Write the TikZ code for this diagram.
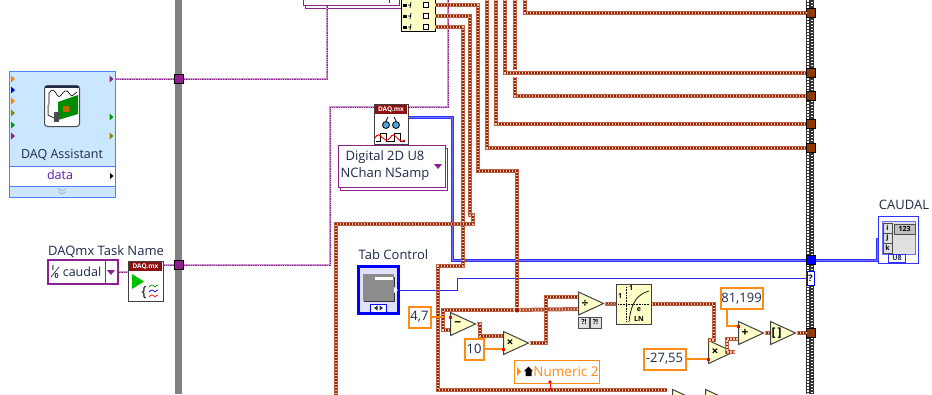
\documentclass[tikz,border=0pt]{standalone}
\usepackage{fontspec}
\setmainfont{Open Sans}
\usetikzlibrary{arrows.meta,shapes.geometric,shadows}
\definecolor{inkblue}{HTML}{1E2A48}
\definecolor{wirerim}{HTML}{BA6444}
\definecolor{wirecore}{HTML}{9C2100}
\definecolor{wirelight}{HTML}{EFCFC0}
\definecolor{numorange}{HTML}{FF8A14}
\definecolor{palecream}{HTML}{FFFFC8}
\definecolor{taskpurple}{HTML}{8E1F8E}
\definecolor{lvblue}{HTML}{3030FF}
\definecolor{tunbrown}{HTML}{8F3A00}
\definecolor{asstblue}{HTML}{CBE6FF}
\definecolor{asstedge}{HTML}{4D80FF}
\definecolor{hdrred}{HTML}{8E1010}

\tikzset{
every node/.style={font=\fontsize{13}{15}\selectfont,text=inkblue,inner sep=0pt},
numwire/.style={draw=wirecore,line width=1.7pt,miter limit=10,
  preaction={draw=wirerim,line width=4pt},
  postaction={draw=wirelight,line width=1.7pt,dash pattern=on 1.4pt off 1.6pt}},
taskwire/.style={draw=taskpurple!45,line width=1.9pt,
  postaction={draw=taskpurple,line width=1pt,dash pattern=on 1.3pt off 1pt}},
arrwire/.style={draw=blue!55,line width=1pt,preaction={draw=lvblue,line width=3pt}},
thinwire/.style={draw=lvblue!90!black,line width=.8pt},
constwire/.style={draw=numorange,line width=1.1pt},
tunnel/.style={draw=black,line width=.8pt,minimum size=9pt},
constbox/.style={draw=numorange,line width=2pt,fill=white,minimum height=21pt},
tri/.style={isosceles triangle,isosceles triangle stretches,shape border rotate=0,
  draw=black!75,line width=1pt,fill=palecream,minimum height=25pt,minimum width=23pt,
  anchor=lower side,font=\bfseries\fontsize{12}{12}\selectfont,text=black},
ringbox/.style={draw=taskpurple,line width=1pt,fill=white,
  copy shadow={shadow xshift=2pt,shadow yshift=-3pt,draw=taskpurple,fill=white}},
iconbox/.style={draw=black!75,line width=1pt,fill=white,minimum width=34pt,minimum height=40pt},
tiny/.style={font=\bfseries\fontsize{7}{7}\selectfont,text=black}
}

\begin{document}
\begin{tikzpicture}[x=1pt,y=-1pt]
\useasboundingbox (0,0) rectangle (932,394);
\clip (0,0) rectangle (932,394);
\fill[white] (0,0) rectangle (932,394);

% Frame bars
\fill[black!50] (175,0) rectangle (182,394);
\fill[black!80] (806,0) rectangle (814,394);
\draw[white,line width=2.6pt,dash pattern=on 1.5pt off 1.5pt] (808,0) -- (808,394);
\draw[white,line width=2.6pt,dash pattern=on 1.5pt off 1.5pt,dash phase=1.5pt] (812,0) -- (812,394);

% DAQ Assistant
\node[draw=asstedge,line width=1pt,fill=asstblue,minimum width=106pt,minimum height=126pt] (assist) at (62,134) {};
\node[draw=asstedge,line width=1pt,fill=white,minimum width=106pt,minimum height=20pt] (assistrow) at (62,176) {};
\node[font=\fontsize{12.5}{14}\selectfont] (assistname) at (62,155) {DAQ Assistant};
\node[text=taskpurple!70!blue,font=\fontsize{12.5}{14}\selectfont] (assistdata) at (60,175) {data};
\fill[black] (110,173) -- (113.5,176) -- (110,179) -- cycle;
\draw[black!35,line width=.6pt] (58,188.5) -- (62,191) -- (66,188.5) (58,191.5) -- (62,194) -- (66,191.5);
\foreach \y/\c in {79/orange,90/blue,101/orange,113/olive,125/green!60!black,136/taskpurple}
  \fill[\c] (11,\y-3.5) -- (15,\y) -- (11,\y+3.5) -- cycle;
\foreach \y/\c in {79/taskpurple,117/green!60!black,136/olive}
  \fill[\c] (109.5,\y-3.5) -- (113.5,\y) -- (109.5,\y+3.5) -- cycle;
\node[draw=black!70,line width=1pt,fill=white,rounded corners=3pt,minimum width=35pt,minimum height=41pt] (assisticon) at (62,106) {};
\fill[inkblue] (45,86) rectangle (79,88);
\draw[black,line width=.6pt] (49,105) -- (49,93) .. controls (52,89) and (54,89) .. (57,95) .. controls (60,100) and (62,92) .. (65,91) .. controls (68,89) and (70,96) .. (72,96) -- (77,92);
\fill[green!55!black] (58,102) -- (78,95) -- (78,114) -- (58,120) -- cycle;
\fill[orange!80!black] (63,106) rectangle (69,112);
\fill[black!70] (54,112) rectangle (59,122);
\draw[black!70,line width=1pt] (48,105) -- (48,115) -- (54,118);

% Task name and start
\node (tasklabel) at (106,252) {DAQmx Task Name};
\node[draw=taskpurple,line width=2pt,fill=white,minimum width=70pt,minimum height=24pt] (taskname) at (83,272) {};
\node[font=\fontsize{12.5}{15}\selectfont] (taskvalue) at (82,271.5) {caudal};
\node[font=\bfseries\fontsize{7}{7}\selectfont] (taskioi) at (53,268) {I};
\node[font=\bfseries\fontsize{7}{7}\selectfont] (taskioo) at (56.5,276) {0};
\draw[inkblue,line width=.7pt] (51,277) -- (59,267);
\draw[taskpurple,line width=1pt] (105,260) -- (105,284);
\fill[taskpurple] (107,270) -- (115,270) -- (111,275) -- cycle;
\node[iconbox,minimum width=35pt] (starticon) at (145.5,281) {};
\node[fill=hdrred,text=white,minimum width=33pt,minimum height=8.5pt,font=\bfseries\fontsize{6.5}{7}\selectfont] (starthdr) at (145.5,266.5) {DAQ.mx};
\fill[green!75!black] (132,274) -- (144,281.5) -- (132,289) -- cycle;
\node[font=\fontsize{14}{14}\selectfont,text=black] (startbrace) at (144,293) {\{};
\draw[green!60!black,line width=.7pt] (149,287) sin (152,285) cos (155,287) sin (158,285);
\draw[blue,line width=.7pt] (149,292) sin (152,290) cos (155,292) sin (158,290);
\draw[red,line width=.7pt] (149,297) sin (152,295) cos (155,297) sin (158,295);

% Top control and indexer
\node[ringbox,minimum width=96pt,minimum height=16pt] (topbox) at (351,-3) {};
\draw[thinwire] (389,0) -- (389,3);
\node[draw=black,line width=1pt,fill=palecream,minimum width=34pt,minimum height=42pt] (indexer) at (418,10) {};
\foreach \y in {5,16,27} {
  \fill[black] (403,\y-1.5) rectangle (407,\y+1.5);
  \draw[black,line width=.8pt] (408,\y) -- (411,\y) (411,\y-3) -- (410,\y+3);
  \draw[black,line width=1pt,fill=white] (423,\y-2.5) rectangle (428,\y+2.5);
}

% Read vi
\node[iconbox] (readicon) at (391,124) {};
\node[fill=hdrred,text=white,minimum width=32pt,minimum height=8.5pt,font=\bfseries\fontsize{6.5}{7}\selectfont] (readhdr) at (391,109.5) {DAQ.mx};
\draw[black,line width=.8pt,fill=cyan!70!blue!70] (386,125) circle (3.5pt) (396,125) circle (3.5pt);
\draw[black,line width=.8pt] (386,121) -- (388,117) (396,121) -- (394,117);
\draw[black,line width=.7pt] (376,141) -- (380,141) -- (380,133) -- (386,133) -- (386,141) -- (394,141) -- (394,133) -- (400,133) -- (400,141) -- (405,141);
\draw[red,line width=1pt] (375,138) .. controls (380,128) and (384,146) .. (390,138) .. controls (395,128) and (398,146) .. (405,140);
\node[ringbox,minimum width=107pt,minimum height=42pt] (readmode) at (391.5,166) {};
\node[align=center,font=\fontsize{13}{17}\selectfont] (readmodetext) at (385,166) {Digital 2D U8\\NChan NSamp};
\fill[taskpurple] (434,164) -- (442,164) -- (438,169) -- cycle;

% Tab control
\node (tablabel) at (393.5,255) {Tab Control};
\node[draw=blue,line width=2.5pt,fill=blue!12,minimum width=40pt,minimum height=47pt] (tabctl) at (378.5,290) {};
\fill[black!45] (363,274) rectangle (394,301);
\draw[black!80,line width=1pt] (364,301) -- (394,301) -- (394,277);
\fill[white] (375,277) rectangle (393,280);
\fill[white] (394,287) -- (398,290) -- (394,293) -- cycle;
\node[draw=blue,line width=.8pt,fill=white,minimum width=16pt,minimum height=8pt] (tabchip) at (378.5,308) {};
\fill[inkblue] (377.5,305.5) -- (377.5,310.5) -- (374,308) -- cycle (379.5,305.5) -- (379.5,310.5) -- (383,308) -- cycle;

% Constants
\node[constbox,minimum width=22pt] (cfour) at (419.5,317) {4,7};
\node[constbox,minimum width=19pt] (cten) at (474,349) {10};
\node[constbox,minimum width=42pt] (cneg) at (664.5,359) {-27,55};
\node[constbox,minimum width=42pt] (cadd) at (741.5,298.5) {81,199};
\node[draw=numorange,line width=1pt,fill=white,minimum width=85pt,minimum height=23pt,text=numorange,align=right,font=\fontsize{13.5}{15}\selectfont] (numeric) at (556.5,371.5) {\hspace*{19pt}Numeric 2};
\fill[numorange] (517,367) -- (521,371.5) -- (517,376) -- cycle;
\fill[black] (524,371) -- (528.5,366.5) -- (533,371) -- (531.5,371) -- (531.5,376) -- (525.5,376) -- (525.5,371) -- cycle;

% Functions
\node[tri] (subtract) at (450,324) {−};
\node[tri] (multa) at (503,343) {×};
\node[tri] (divide) at (578,303.5) {÷};
\node[tri] (multb) at (708,352) {×};
\node[tri] (addb) at (738,333) {+};
\node[tri] (rounder) at (770,333) {[\,]};
\node[tri] (lowera) at (672,401) {};
\node[tri] (lowerb) at (705,401) {};
\node[draw=black!70,line width=1pt,fill=black!12,minimum width=11pt,minimum height=11pt,tiny] (errl) at (584,322.5) {?!};
\node[draw=black!70,line width=1pt,fill=black!12,minimum width=11pt,minimum height=11pt,tiny] (errr) at (595.5,322.5) {?!};
\node[draw=black!75,line width=1pt,fill=palecream,minimum width=35pt,minimum height=40pt] (lnicon) at (633.5,304) {};
\draw[black,line width=.6pt,densely dotted] (618,304) -- (650,304) (626,287) -- (626,322);
\draw[black,line width=.7pt] (629,322) .. controls (631,302) and (638,294) .. (649,291);
\node[tiny] (lnone) at (620,296) {1};
\node[tiny] (lntop) at (631,288) {1};
\node[tiny] (lne) at (639,310) {e};
\node[tiny] (lnname) at (639,319) {LN};

% Tunnels
\node[tunnel,fill=taskpurple] (tunup) at (179,79) {};
\node[tunnel,fill=taskpurple] (tundown) at (179,265) {};
\node[tunnel,fill=tunbrown] (tuna) at (811,13) {};
\node[tunnel,fill=tunbrown] (tunb) at (811,73) {};
\node[tunnel,fill=tunbrown] (tunc) at (811,96) {};
\node[tunnel,fill=tunbrown] (tund) at (811,124) {};
\node[tunnel,fill=tunbrown] (tune) at (811,148) {};
\node[tunnel,fill=tunbrown] (tunf) at (811,333) {};
\node[tunnel,fill=blue] (tunarr) at (811,260) {};
\node[draw=blue,line width=1pt,fill=white,minimum width=7pt,minimum height=14pt,text=black,font=\bfseries\fontsize{9}{9}\selectfont] (tunq) at (810.5,278) {?};

% Indicator
\node (caudallabel) at (904,205) {CAUDAL};
\node[draw=lvblue,line width=1pt,fill=white,minimum width=40pt,minimum height=47pt] (caudal) at (898,240) {};
\node[draw=lvblue!70,line width=1pt,fill=black!12,minimum width=33pt,minimum height=33pt] (caudalin) at (899,238) {};
\node[draw=lvblue,line width=1pt,fill=white,minimum width=17pt,minimum height=8pt,tiny,text=inkblue] (caudalu) at (897,258) {U8};
\foreach \y/\t in {228/i,238/j,248/k}
  \node[draw=black!70,line width=.8pt,fill=black!12,minimum width=9pt,minimum height=10pt,tiny] (dim\t) at (887.5,\y) {\t};
\node[draw=black!70,line width=.8pt,fill=black!25,minimum width=21pt,minimum height=10pt,tiny] (caudalnum) at (904.5,229) {123};

% Free ends
\coordinate (topa) at (525,-3);
\coordinate (topb) at (505,-3);
\coordinate (topc) at (515,-3);
\coordinate (topcbreak) at (515,70);
\coordinate (topcresume) at (515,77);
\coordinate (topd) at (496,-3);
\coordinate (tope) at (487,-3);
\coordinate (toptask) at (448,-3);
\coordinate (idxa) at (435,5);
\coordinate (idxb) at (435,16);
\coordinate (idxc) at (435,27);
\coordinate (subin) at (450,317);
\coordinate (subinb) at (450,330);
\coordinate (multain) at (503,336);
\coordinate (multainb) at (503,349);
\coordinate (divin) at (578,297);
\coordinate (divinb) at (578,309);
\coordinate (multbin) at (708,340);
\coordinate (multbinb) at (708,359);
\coordinate (addin) at (738,326);
\coordinate (addinb) at (738,339);
\coordinate (offa) at (336,400);
\coordinate (lowerin) at (667,390);

% Task wires
\draw[taskwire] (assist.east|-tunup) -- (tunup);
\draw[taskwire] (tunup) -- (327,79) |- (topbox.south-|327,5);
\draw[taskwire] (taskname.east) -- (starticon.west|-taskname);
\draw[taskwire] (starticon.east|-tundown) -- (tundown);
\draw[taskwire] (tundown) -- (330,265) |- (readicon.west|-0,107);
\draw[taskwire] (readicon.east|-0,107) -- (448,107) -- (toptask);

% Array and scalar wires
\draw[arrwire] (readicon.east|-0,117) -- (452,117) |- (tunarr);
\draw[arrwire] (tunarr) -- (877,260) |- (caudal.west|-0,239);
\draw[thinwire] (tabctl.east) -- (457,290) |- (tunq.west);

% Number wires
\draw[numwire] (topa) |- (tuna);
\draw[numwire] (topc) -- (topcbreak);
\draw[numwire] (topb) |- (tunb);
\draw[numwire] (topcresume) |- (tunc);
\draw[numwire] (topd) |- (tund);
\draw[numwire] (tope) |- (tune);
\draw[numwire] (idxc) -| (463,266) -| (438,390) -- (lowerin);
\draw[numwire] (idxb) -| (470,215) -- (473,215) |- (336,224) -- (offa);
\node[circle,fill=wirecore,minimum size=5pt] (split) at (517,310) {};
\draw[numwire] (idxa) -| (478,171) -| (split);
\draw[numwire] (split) -| (443,330) -- (subinb);
\draw[numwire] (split) -- (divinb);
\draw[numwire] (subtract.apex) -| (480,336) -- (multain);
\draw[numwire] (multa.apex) -| (546,297) -- (divin);
\draw[numwire] (divide.apex) -- (lnicon.west|-divide.apex);
\draw[numwire] (lnicon.east) -| (714,340) -- (multbin);
\draw[numwire] (multb.apex) -| (727,339) -- (addinb);
\draw[numwire] (addb.apex) -- (rounder.lower side);
\draw[numwire] (rounder.apex) -- (tunf);

% Constant wires
\draw[constwire] (cfour.east) -- (444,317);
\draw[constwire] (cten.east) -- (multainb);
\draw[constwire] (cneg.east) -- (multbinb);
\draw[constwire] (cadd.south-|727,0) |- (addin);
\draw[red,line width=1pt] (numeric.south-|550,0) -- (550,390);

% Coercion dots
\foreach \p in {subin,multainb,multbinb,addin}
  \fill[red] (\p) ++(-1.5,-1.5) rectangle ++(3.5,3);
\fill[red] (550,382) circle (1.8pt);
\end{tikzpicture}
\end{document}
